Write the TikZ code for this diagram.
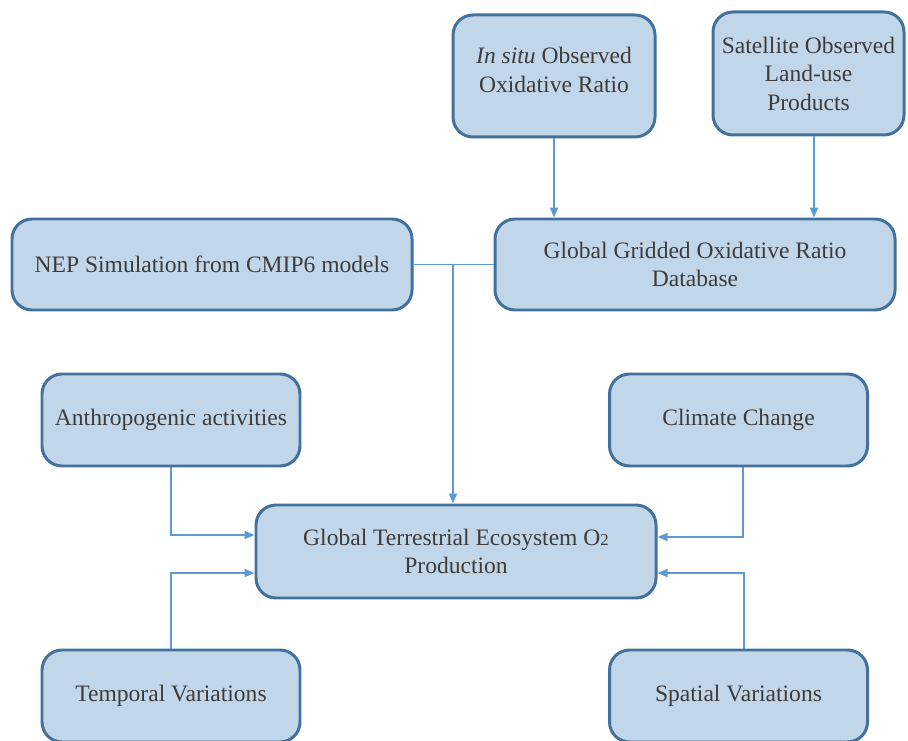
\documentclass[tikz,border=0pt]{standalone}
\usepackage{fontspec}
\setmainfont{Liberation Serif}
\usepackage{tikz}
\usetikzlibrary{arrows.meta}
\definecolor{boxfill}{RGB}{194,214,234}
\definecolor{boxline}{RGB}{65,113,156}
\definecolor{linkline}{RGB}{91,155,213}
\definecolor{txtgray}{RGB}{60,60,60}

\begin{document}
\begin{tikzpicture}[
	box/.style={draw=boxline, fill=boxfill, line width=1.7pt, rounded corners=0.4cm,
		align=center, text=txtgray, inner sep=0pt,
		font=\rmfamily\fontsize{13.4}{16.2}\selectfont},
	link/.style={draw=linkline, line width=1.1pt},
	arr/.style={link, -{Triangle[length=2mm,width=1.6mm]}}
	]
			%%%%% START %%%%%
			\useasboundingbox (0, 0) rectangle (18.16, -14.82);
			
			\node[box, minimum width=4.04cm, minimum height=2.44cm] (insitu) at (11.08, -1.52)
				{\textit{In situ} Observed\\Oxidative Ratio\\[-0.33cm]};
			\node[box, minimum width=3.82cm, minimum height=2.46cm] (sat) at (16.17, -1.47)
				{Satellite Observed\\Land-use\\Products};
			
			\node[box, minimum width=8cm, minimum height=1.82cm] (nep) at (4.24, -5.29)
				{NEP Simulation from CMIP6 models};
			\node[box, minimum width=8cm, minimum height=1.82cm] (grid) at (13.9, -5.29)
				{Global Gridded Oxidative Ratio\\Database};
			
			\node[box, minimum width=5.16cm, minimum height=1.84cm] (anthro) at (3.42, -8.4)
				{Anthropogenic activities};
			\node[box, minimum width=5.16cm, minimum height=1.84cm] (climate) at (14.77, -8.4)
				{Climate Change};
			
			\node[box, minimum width=8cm, minimum height=1.86cm] (terr) at (9.12, -11.03)
				{Global Terrestrial Ecosystem O{\fontsize{9.5}{12}\selectfont 2}\\Production};
			
			\node[box, minimum width=5.16cm, minimum height=1.84cm] (temporal) at (3.42, -13.92)
				{Temporal Variations};
			\node[box, minimum width=5.16cm, minimum height=1.84cm] (spatial) at (14.77, -13.92)
				{Spatial Variations};
			
			% inputs to the gridded database
			\draw[arr] (insitu.south) -- (insitu.south |- grid.north);
			\draw[arr] ([xshift=0.11cm]sat.south) -- ([xshift=0.11cm]sat.south |- grid.north);
			
			% NEP + ratio -> O2 production
			\draw[link] (nep.east) -- (grid.west);
			\coordinate (junc) at (9.06, -5.29);
			\draw[arr] (junc) -- (junc |- terr.north);
			
			% drivers
			\draw[arr] (anthro.south) |- ([yshift=0.33cm]terr.west);
			\draw[arr] (temporal.north) |- ([yshift=-0.43cm]terr.west);
			\draw[arr] ([xshift=0.09cm]climate.south) |- ([yshift=0.29cm]terr.east);
			\draw[arr] ([xshift=0.11cm]spatial.north) |- ([yshift=-0.43cm]terr.east);
			%%%%% END %%%%%
		\end{tikzpicture}
\end{document}
